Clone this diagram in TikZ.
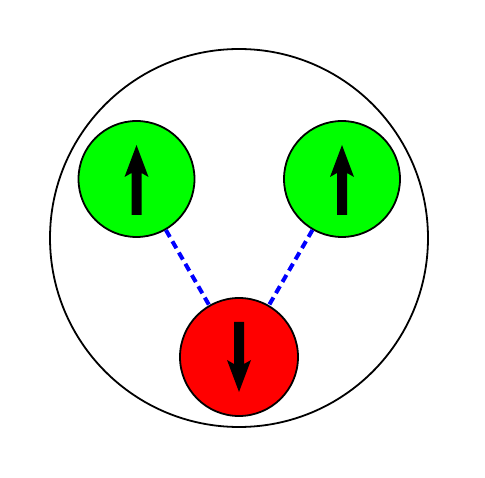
\documentclass[tikz,border=0pt]{standalone}
\usetikzlibrary{calc}
\tikzset{
  ball/.style={circle, draw=black, line width=1.8pt, inner sep=0pt, minimum size=116pt},
  bond/.style={draw=blue, line width=4pt, dash pattern=on 8pt off 5pt},
  upspin/.pic={\fill[black] (-5,36)--(-5,-6)--(-12,-2)--(0,-34)--(12,-2)--(5,-6)--(5,36)--cycle;},
  downspin/.pic={\fill[black] (-5,-35)--(-5,7)--(-12,3)--(0,35)--(12,3)--(5,7)--(5,-35)--cycle;}
}
\begin{document}
\begin{tikzpicture}[x=1pt,y=-1pt]
\useasboundingbox (0,0) rectangle (485,478);
\node[circle, draw=black, line width=1.8pt, inner sep=0pt, minimum size=378pt] (outer) at (239,238) {};
\node[ball, fill=green] (g1) at (136.5,179) {};
\node[ball, fill=green] (g2) at (342,179) {};
\node[ball, fill=red, minimum size=118pt] (r) at (239,357) {};
\draw[bond] (g1) -- (r);
\draw[bond] (g2) -- (r);
\pic at (g1) {upspin};
\pic at (g2) {upspin};
\pic at (r) {downspin};
\end{tikzpicture}
\end{document}
